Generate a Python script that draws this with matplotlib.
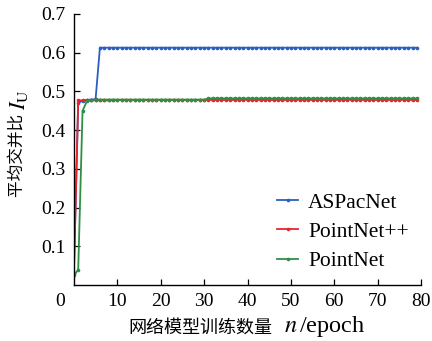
import numpy as np
import matplotlib.pyplot as plt

plt.rcParams['font.family'] = ['Liberation Serif', 'Noto Sans CJK SC']
plt.rcParams['mathtext.fontset'] = 'stix'

# mean IoU per epoch
epochs = list(range(80))
aspacnet = [0.03, 0.47, 0.476, 0.478, 0.479, 0.48] + [0.613] * 74
pointnet_pp = [0.03] + [0.477] * 9 + [0.478] * 70
pointnet = [0.025, 0.04, 0.45, 0.475, 0.478] + [0.479] * 26 + [0.482] * 49

labels = ['ASPacNet', 'PointNet++', 'PointNet']
colors = ['#2c5fbf', '#e8242c', '#2f8f45']
series = [aspacnet, pointnet_pp, pointnet]

fig = plt.figure(figsize=(4.32, 3.41), dpi=100)
ax = fig.add_axes([0.171, 0.164, 0.804, 0.795])

for vals, lab, c in zip(series, labels, colors):
    ax.plot(epochs, vals, color=c, lw=1.3, marker='o', ms=1.6,
            mec=c, mfc=c, label=lab)

ax.set_xlim(0, 80)
ax.set_ylim(0, 0.7)
ax.set_xticks(range(10, 90, 10))
ax.set_yticks(np.arange(0.1, 0.75, 0.1))
ax.set_yticklabels(['0.1', '0.2', '0.3', '0.4', '0.5', '0.6', '0.7'])
ax.tick_params(direction='in', length=4, width=0.9, labelsize=14, pad=6)
ax.spines['top'].set_visible(False)
ax.spines['right'].set_visible(False)
for s in ['left', 'bottom']:
    ax.spines[s].set_linewidth(1.0)

# shared origin label
ax.annotate('0', xy=(0, 0), xytext=(-10, -6), textcoords='offset points',
            ha='center', va='top', fontsize=14)

ax.legend(loc='lower right', bbox_to_anchor=(1.02, -0.02), frameon=False,
          fontsize=15.5, handlelength=1.0, handletextpad=0.45, labelspacing=0.42)

# axis labels: CJK part and math part drawn as separate texts
fig.canvas.draw()
r = fig.canvas.get_renderer()
W, H = 432, 341

# x label, centred at about x=247 px, y=328 px from top
t1 = fig.text(0, 0, '网络模型训练数量', fontsize=13, family='Noto Sans CJK SC',
              va='center', ha='left')
t2 = fig.text(0, 0, '$n\\,$/epoch', fontsize=17.5, va='center', ha='left')
w1 = t1.get_window_extent(r).width
w2 = t2.get_window_extent(r).width
gap = 12
x0 = 247 - (w1 + gap + w2) / 2
yc = 1 - 328 / H
t1.set_position((x0 / W, yc))
t2.set_position(((x0 + w1 + gap) / W, yc + 0.004))

# y label, rotated, centred at about y=143 px from top, x=17 px
t3 = fig.text(0, 0, '平均交并比 ', fontsize=12, family='Noto Sans CJK SC',
              rotation=90, va='bottom', ha='center')
t4 = fig.text(0, 0, '$I_{\\mathrm{U}}$', fontsize=16, rotation=90,
              va='bottom', ha='center')
h3 = t3.get_window_extent(r).height
h4 = t4.get_window_extent(r).height
y0 = (H - 143) - (h3 + h4) / 2
t3.set_position((17 / W, y0 / H))
t4.set_position((19 / W, (y0 + h3) / H))

fig.savefig('out.png', dpi=100)
